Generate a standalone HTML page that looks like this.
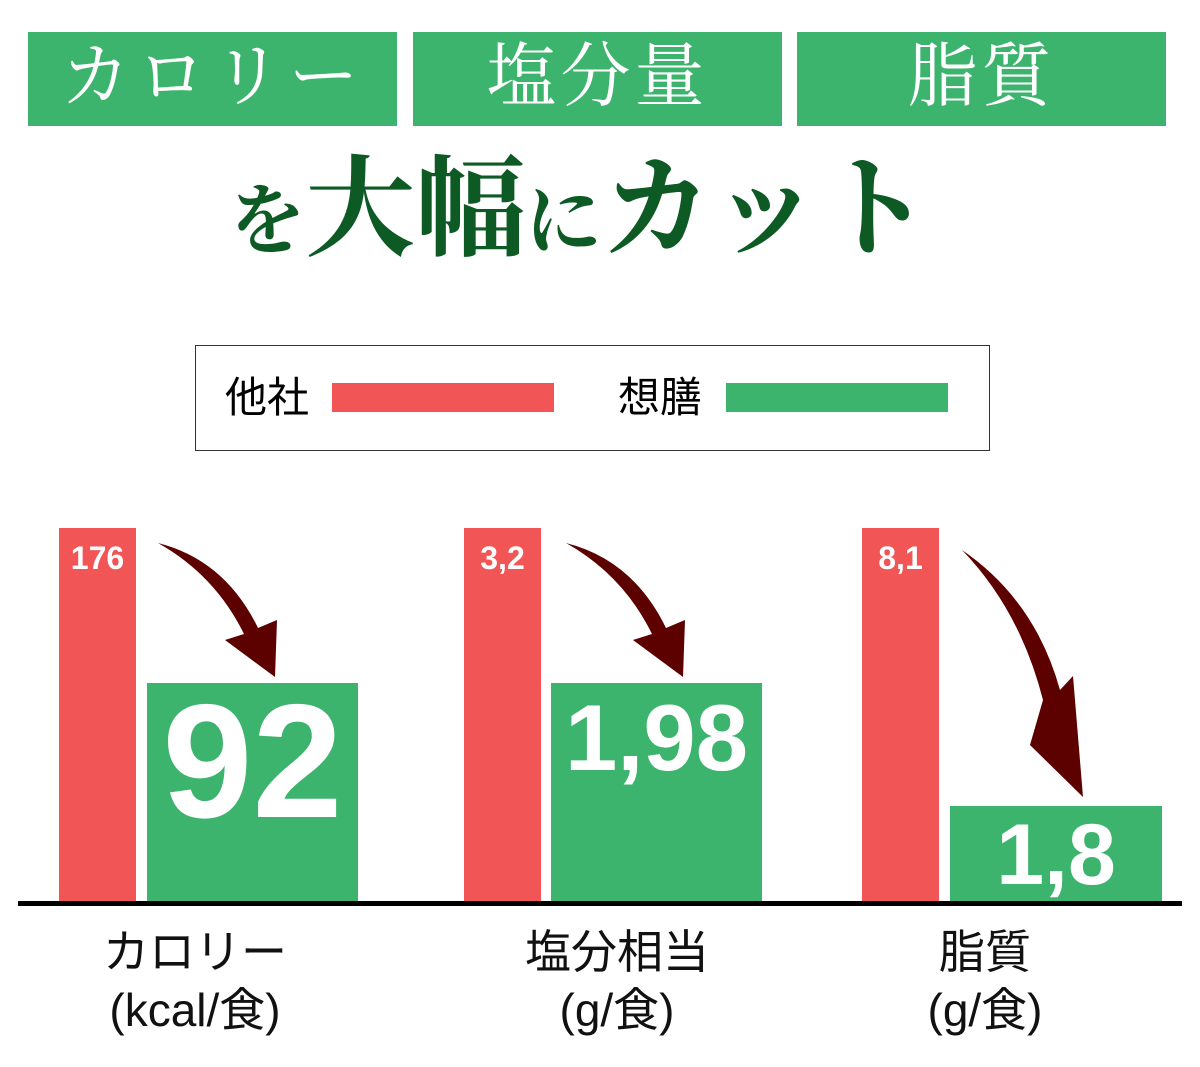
<!DOCTYPE html>
<html><head><meta charset="utf-8"><style>
body{margin:0;width:1200px;height:1067px;background:#fff;overflow:hidden;position:relative;font-family:"Liberation Sans","Noto Sans CJK JP",sans-serif}
.a{position:absolute}
.hb{position:absolute;top:32px;height:94px;background:#3db46d;color:#fff;font-family:"Liberation Serif","Noto Serif CJK SC",serif;font-size:70px;line-height:92px;text-align:center}
.r{position:absolute;background:#f25555}
.g{position:absolute;background:#3db46d}
.rl{position:absolute;color:#fff;font-weight:bold;font-size:32px;top:540px;width:77px;text-align:center}
.gl{position:absolute;color:#fff;font-weight:bold;text-align:center}
.cl{position:absolute;top:923px;width:300px;text-align:center;font-size:46px;line-height:58px;color:#111}
</style></head><body>
<div class="hb" style="left:28px;width:369px;letter-spacing:6px">カロリー</div>
<div class="hb" style="left:413px;width:369px;letter-spacing:4px">塩分量</div>
<div class="hb" style="left:797px;width:369px;letter-spacing:4px">脂質</div>
<div class="a" style="left:0;width:1160px;top:140px;text-align:center;font-family:'Liberation Serif','Noto Serif CJK SC',serif;font-weight:bold;font-size:110px;line-height:140px;color:#0d5a25"><span style="font-size:76px">を</span>大幅<span style="font-size:76px">に</span>カット</div>
<div class="a" style="left:195px;top:345px;width:793px;height:104px;border:1px solid #333"></div>
<div class="a" style="left:225px;top:372px;font-size:42px;line-height:52px">他社</div>
<div class="r" style="left:332px;top:383px;width:222px;height:29px"></div>
<div class="a" style="left:618px;top:372px;font-size:42px;line-height:52px">想膳</div>
<div class="g" style="left:726px;top:383px;width:222px;height:29px"></div>

<div class="r" style="left:59px;top:528px;width:77px;height:375px"></div>
<div class="r" style="left:464px;top:528px;width:77px;height:375px"></div>
<div class="r" style="left:862px;top:528px;width:77px;height:375px"></div>
<div class="rl" style="left:59px">176</div>
<div class="rl" style="left:464px">3,2</div>
<div class="rl" style="left:862px">8,1</div>
<div class="g" style="left:147px;top:683px;width:211px;height:220px"></div>
<div class="g" style="left:551px;top:683px;width:211px;height:220px"></div>
<div class="g" style="left:950px;top:806px;width:212px;height:97px"></div>
<div class="gl" style="left:147px;width:211px;top:672px;font-size:162px;line-height:180px">92</div>
<div class="gl" style="left:551px;width:211px;top:688px;font-size:94px;line-height:100px">1,98</div>
<div class="gl" style="left:950px;width:212px;top:810px;font-size:86px;line-height:90px">1,8</div>
<div class="a" style="left:18px;top:901px;width:1164px;height:5px;background:#000"></div>
<svg class="a" style="left:0;top:0" width="1200" height="1067">
<g fill="#5c0000">
<path d="M158,543 Q225,560 258,628 L277,620 L275,677 L225,640 L244,634 Q215,575 158,543 Z"/>
<path d="M566,543 Q633,560 666,628 L685,620 L683,677 L633,640 L652,634 Q623,575 566,543 Z"/>
<path d="M962,550 Q1035,600 1060,690 L1073,676 L1083,797 L1030,745 L1043,700 Q1020,610 962,550 Z"/>
</g></svg>
<div class="cl" style="left:45px">カロリー<br>(kcal/食)</div>
<div class="cl" style="left:467px">塩分相当<br>(g/食)</div>
<div class="cl" style="left:835px">脂質<br>(g/食)</div>
</body></html>
